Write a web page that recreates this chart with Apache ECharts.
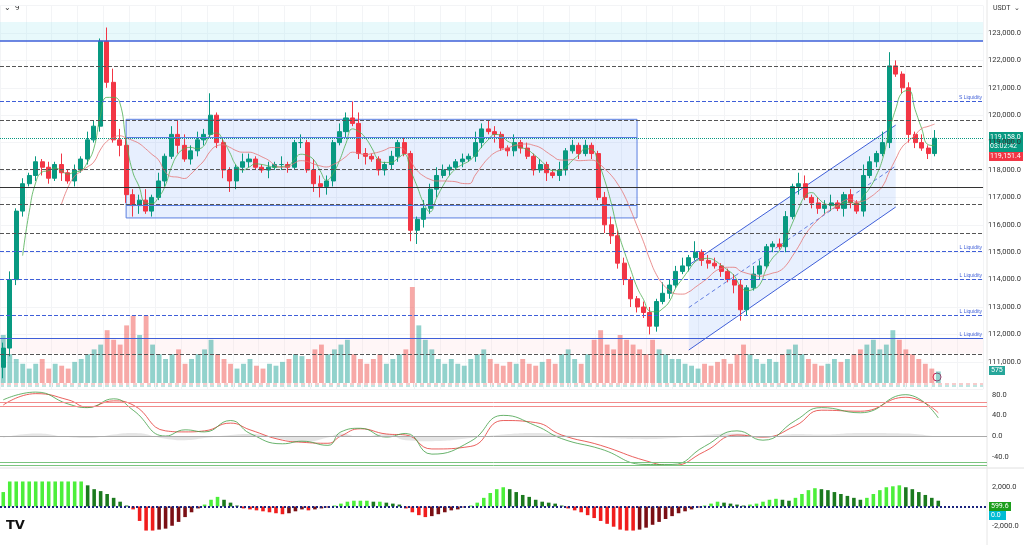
<!DOCTYPE html>
<html><head><meta charset="utf-8">
<script src="https://cdn.jsdelivr.net/npm/echarts@6/dist/echarts.min.js"></script>
<style>html,body{margin:0;padding:0;background:#fff}#c{width:1024px;height:545px}</style>
</head><body><div id="c"></div>
<script>
const closes=[111500,114000,116500,117500,117800,118300,118100,117700,118200,117900,
117600,118000,118400,119100,119600,122700,121200,119100,118900,117100,
116700,116900,116500,117000,117600,118500,119300,118900,118400,118700,
119100,119300,120000,119000,118000,117600,118100,118300,118400,118100,
118000,118100,118200,118200,118100,119000,119000,118000,117500,117400,
117600,119000,119400,119900,119700,118600,118500,118400,118000,118200,
118500,119000,118600,115800,116200,116600,117300,117800,118000,118100,
118300,118400,118500,119000,119500,119400,119300,118800,118700,119000,
118800,118500,118000,118200,117900,117800,118000,118700,118900,118600,
118900,118600,117000,116000,115600,114600,114000,113300,113000,112800,
112300,113200,113500,113800,114300,114500,114800,115000,114700,114600,
114500,114300,114000,113800,112900,113700,114200,114500,115200,115300,
115200,116300,117400,117500,117000,116800,116600,116700,116800,116600,
117100,116800,116500,117800,118300,118600,119000,121800,121500,121000,
119300,119000,118800,118600,119158];
const firstOpen=110800;
const wickUp="2312121214"+"1213215543"+"2241313542"+"3281211321"+"1213113143"+"2132642111"+"2121132321"+"1214232113"+"1212113121"+"2112322112"+"2142231412"+"2112213211"+"2214312231"+"1214214521"+"21313";
const wickDn="4322123213"+"1212122143"+"4312121312"+"2212343221"+"1312212134"+"3212123122"+"2214532312"+"1212213122"+"2121312212"+"1213322322"+"3212112122"+"1213421212"+"1213122221"+"3212121212"+"32121";
const volumes=[50,30,25,20,15,20,25,15,20,18,15,22,25,30,35,40,55,45,40,60,
70,50,70,40,30,25,30,35,20,25,30,35,45,30,25,20,15,20,25,18,
15,20,18,22,25,30,28,25,35,40,30,35,40,45,30,25,20,25,30,20,
25,30,35,100,60,45,35,25,20,25,20,18,25,30,35,25,20,18,22,20,
25,20,18,22,25,20,30,35,25,20,30,45,55,40,35,50,45,40,35,30,
45,35,30,25,25,20,18,15,20,18,22,25,20,30,40,30,25,20,25,22,
30,35,40,30,25,20,18,20,25,22,25,30,35,40,45,35,40,55,45,35,
30,25,20,15,12];
const macdHist=[1500,2600,2600,2600,2600,2600,2600,2600,2600,2600,2600,2600,2600,
2200,1800,1600,1300,900,500,100,
-300,-1500,-2500,-2500,-2400,-2300,-2000,-1600,-1100,-600,-200,
200,700,1000,700,400,100,
-200,-300,-400,-500,-600,-700,-800,-700,-500,-300,-400,-300,-200,-100,100,
300,500,600,600,600,500,500,400,300,200,
-200,-600,-900,-1100,-1000,-800,-600,-400,-300,-100,100,
400,900,1400,1800,2000,1800,1500,1200,1000,700,500,400,300,100,
-200,-400,-600,-900,-1200,-1500,-1800,-2100,-2400,-2500,-2500,-2400,-2200,-1900,-1600,-1300,-1000,-700,-500,-300,-100,
100,300,500,400,300,200,100,200,300,500,700,800,700,600,
900,1300,1700,1900,1800,1700,1500,1300,1100,900,700,900,
1300,1700,2000,2100,2200,2000,1800,1500,1200,900,600];
const oscIdx=[0,5,10,13,17,20,25,28,31,35,38,43,46,50,52,55,59,62,66,72,77,82,86,92,99,103,108,113,117,122,126,132,139,144];
const oscFast=[70,85,62,55,72,50,0,12,8,30,5,-15,-10,-18,8,15,-2,5,-35,-10,40,20,-5,-25,-55,-55,-20,10,-8,30,55,45,80,35];
const oscSlow=[60,82,70,56,68,60,10,8,10,25,12,-8,-12,-14,0,14,4,2,-25,-20,30,26,2,-18,-48,-57,-30,2,-2,20,50,48,75,45];
const oscGray=[-3,5,-2,-4,3,6,-5,-8,-4,2,4,-6,-12,-3,5,-2,4,-8,-10,-4,3,6,2,-3,-6,-4,2,5,-3,4,3,6,5,-2];
const nBlank=7;

const cats=closes.map((_,i)=>i).concat(Array.from({length:nBlank},(_,k)=>closes.length+k));
const ohlc=closes.map((c,i)=>{const o=i?closes[i-1]:firstOpen;return [o,c,Math.min(o,c)-(+wickDn[i])*100,Math.max(o,c)+(+wickUp[i])*100];});
function sma(n){return closes.map((_,i)=>{if(i<n-1)return '-';let s=0;for(let k=i-n+1;k<=i;k++)s+=closes[k];return s/n;});}
const maFast=sma(4), maSlow=sma(10);
const UP='#089981',DN='#f23645';
const RIGHT=37;
const dashLine=(y,c,t)=>({yAxis:y,lineStyle:{color:c,type:t||'dashed',width:1},label:{show:false}});
const liq=(y,txt,solid)=>({yAxis:y,lineStyle:{color:'#3f5fd8',type:solid?'solid':'dashed',width:solid?1.2:1},label:{show:true,position:'insideEndTop',formatter:txt,color:'#3f5fd8',fontSize:5,distance:1}});

const chart=echarts.init(document.getElementById('c'),null,{renderer:'canvas'});
chart.setOption({
animation:false,
grid:[
 {left:0,right:RIGHT,top:5.6,height:383.6},
 {left:0,right:RIGHT,top:287,height:96},
 {left:0,right:RIGHT,top:374,height:103.4},
 {left:0,right:RIGHT,top:468,height:92}
],
xAxis:[
 {type:'category',data:cats,gridIndex:0,axisLine:{show:false},axisTick:{show:false},axisLabel:{show:false},splitLine:{show:true,interval:3,lineStyle:{color:'#f3f4f6'}}},
 {type:'category',data:cats,gridIndex:1,show:false},
 {type:'value',min:-0.5,max:cats.length-0.5,gridIndex:2,show:false},
 {type:'category',data:cats,gridIndex:3,show:false}
],
yAxis:[
 {type:'value',gridIndex:0,position:'right',min:110000,max:124000,interval:1000,axisLine:{show:false},axisTick:{show:false},
  axisLabel:{showMinLabel:false,showMaxLabel:false,color:'#333',fontSize:7.5,fontFamily:'Roboto',margin:5,formatter:v=>v.toLocaleString('en-US')+'.0'},
  splitLine:{show:true,lineStyle:{color:'#f3f4f6'}}},
 {type:'value',gridIndex:1,min:0,max:100,show:false},
 {type:'value',gridIndex:2,position:'right',min:-80,max:120,interval:40,axisLine:{show:false},axisTick:{show:false},splitLine:{show:false},
  axisLabel:{showMinLabel:false,showMaxLabel:false,color:'#333',fontSize:7.5,fontFamily:'Roboto',margin:5,formatter:v=>v.toFixed(1)}},
 {type:'value',gridIndex:3,position:'right',min:-4000,max:4000,interval:2000,axisLine:{show:false},axisTick:{show:false},splitLine:{show:false},
  axisLabel:{showMinLabel:false,showMaxLabel:false,color:'#333',fontSize:7.5,fontFamily:'Roboto',margin:5,formatter:v=>v===0?'':v.toLocaleString('en-US')+'.0'}}
],
series:[
 {type:'bar',xAxisIndex:1,yAxisIndex:1,barWidth:'75%',silent:true,
  data:volumes.map((v,i)=>({value:v,itemStyle:{color:ohlc[i][1]>=ohlc[i][0]?'rgba(38,166,154,0.5)':'rgba(239,83,80,0.5)'}}))},
 {type:'candlestick',xAxisIndex:0,yAxisIndex:0,data:ohlc,barWidth:'70%',
  itemStyle:{color:UP,color0:DN,borderColor:UP,borderColor0:DN,borderWidth:1},
  markArea:{silent:true,data:[
   [{yAxis:122700,itemStyle:{color:'rgba(178,235,242,0.3)'}},{yAxis:123400}],
   [{yAxis:111300,itemStyle:{color:'rgba(255,205,210,0.18)'}},{yAxis:111850}],
   [{xAxis:19,yAxis:119850,itemStyle:{color:'rgba(66,133,244,0.13)',borderColor:'#5b7fe0',borderWidth:1}},{xAxis:98,yAxis:116250}]
  ]},
  markLine:{silent:true,symbol:'none',data:[
   {yAxis:122700,lineStyle:{color:'#3f5fd8',type:'solid',width:1.6},label:{show:false}},
   dashLine(121800,'#555'),
   liq(120500,'S Liquidity'),
   dashLine(119830,'#555'),
   {yAxis:119158,lineStyle:{color:'#089981',type:'dotted',width:1},label:{show:false}},
   dashLine(118040,'#555'),
   {yAxis:117380,lineStyle:{color:'#333',type:'solid',width:1},label:{show:false}},
   dashLine(116760,'#555'),
   dashLine(115700,'#555'),
   liq(115040,'L Liquidity'),
   liq(114020,'L Liquidity'),
   liq(112700,'L Liquidity'),
   liq(111870,'L Liquidity',true),
   dashLine(111280,'#555'),
   [{coord:[19,119200],lineStyle:{color:'#5b7fe0',type:'solid',width:1}},{coord:[98,119200]}],
   [{coord:[19,116720],lineStyle:{color:'#5b7fe0',type:'solid',width:1}},{coord:[98,116720]}]
  ]}},
 {type:'line',data:maFast,symbol:'none',smooth:true,lineStyle:{color:'#4caf50',width:0.8},z:3},
 {type:'line',data:maSlow,symbol:'none',smooth:true,lineStyle:{color:'#e57373',width:0.8},z:3},
 {type:'custom',xAxisIndex:0,yAxisIndex:0,data:[[0]],z:1,silent:true,
  renderItem:(p,api)=>{
   const a=api.coord([105.5,114530]),b=api.coord([137.8,119640]),c=api.coord([137.8,116650]),d=api.coord([105.5,111430]);
   const m1=[(a[0]+d[0])/2,(a[1]+d[1])/2],m2=[(b[0]+c[0])/2,(b[1]+c[1])/2];
   return {type:'group',children:[
    {type:'polygon',shape:{points:[a,b,c,d]},style:{fill:'rgba(66,133,244,0.12)',stroke:null}},
    {type:'line',shape:{x1:a[0],y1:a[1],x2:b[0],y2:b[1]},style:{stroke:'#3f5fd8',lineWidth:1}},
    {type:'line',shape:{x1:d[0],y1:d[1],x2:c[0],y2:c[1]},style:{stroke:'#3f5fd8',lineWidth:1}},
    {type:'line',shape:{x1:m1[0],y1:m1[1],x2:m2[0],y2:m2[1]},style:{stroke:'#3f5fd8',lineWidth:0.8,lineDash:[4,3]}}
   ]};}},
 {type:'line',xAxisIndex:2,yAxisIndex:2,data:oscIdx.map((x,i)=>[x,oscGray[i]]),symbol:'none',smooth:true,lineStyle:{width:0},areaStyle:{color:'rgba(160,160,160,0.4)'},
  markLine:{silent:true,symbol:'none',label:{show:false},data:[
   {yAxis:0,lineStyle:{color:'#aaa',type:'solid',width:1}},
   {yAxis:65,lineStyle:{color:'#f28b8b',type:'solid',width:1}},
   {yAxis:57,lineStyle:{color:'#f28b8b',type:'solid',width:1}},
   {yAxis:-50,lineStyle:{color:'#7bc47f',type:'solid',width:1}},
   {yAxis:-56,lineStyle:{color:'#7bc47f',type:'solid',width:1}}]}},
 {type:'line',xAxisIndex:2,yAxisIndex:2,data:oscIdx.map((x,i)=>[x,oscSlow[i]]),symbol:'none',smooth:true,lineStyle:{color:'#e53935',width:0.8}},
 {type:'line',xAxisIndex:2,yAxisIndex:2,data:oscIdx.map((x,i)=>[x,oscFast[i]]),symbol:'none',smooth:true,lineStyle:{color:'#43a047',width:0.8}},
 {type:'bar',xAxisIndex:3,yAxisIndex:3,barWidth:'55%',
  data:macdHist.map((v,i)=>{const pv=i?macdHist[i-1]:0;let c;
   if(v>=0)c=v>=pv?'#4cef3a':'#1b7a1e';else c=v<=pv?'#f01d1d':'#7a0f14';return {value:v,itemStyle:{color:c}};}),
  markLine:{silent:true,symbol:'none',label:{show:false},data:[{yAxis:0,lineStyle:{color:'#1a237e',type:'dotted',width:2}}]}}
],
graphic:[
 {type:'text',left:4,top:4,style:{text:'⌄  9',fontSize:8,fill:'#333',fontFamily:'Roboto'}},
 {type:'text',left:993,top:5,style:{text:'USDT  ⌄',fontSize:7,fill:'#333',fontFamily:'Roboto'}},
 {type:'line',shape:{x1:0,y1:384,x2:987,y2:384},style:{stroke:'#ef9a9a',lineDash:[4,3],lineWidth:1}},
 {type:'line',shape:{x1:0,y1:386,x2:987,y2:386},style:{stroke:'#80cbc4',lineDash:[4,3],lineWidth:1}},
 {type:'line',shape:{x1:0,y1:468,x2:1024,y2:468},style:{stroke:'#e0e0e0',lineWidth:1}},
 {type:'line',shape:{x1:987,y1:0,x2:987,y2:545},style:{stroke:'#e6e6e6',lineWidth:1}},
 {type:'rect',shape:{x:989,y:132,width:34,height:20},style:{fill:'#089981'}},
 {type:'text',left:990,top:133,style:{text:'119,158.0\n03:02:42',fontSize:7,lineHeight:9,fill:'#fff',fontFamily:'Roboto'}},
 {type:'rect',shape:{x:989,y:152,width:34,height:9},style:{fill:'#f23645'}},
 {type:'text',left:990,top:153,style:{text:'119,151.4',fontSize:7,fill:'#fff',fontFamily:'Roboto'}},
 {type:'rect',shape:{x:989,y:366,width:16,height:9},style:{fill:'#26a69a'}},
 {type:'text',left:991,top:367,style:{text:'575',fontSize:7,fill:'#fff',fontFamily:'Roboto'}},
 {type:'rect',shape:{x:989,y:502,width:22,height:9},style:{fill:'#1b9e1b'}},
 {type:'text',left:991,top:503,style:{text:'599.6',fontSize:7,fill:'#fff',fontFamily:'Roboto'}},
 {type:'rect',shape:{x:989,y:511,width:17,height:9},style:{fill:'#00bcd4'}},
 {type:'text',left:991,top:512,style:{text:'0.0',fontSize:7,fill:'#fff',fontFamily:'Roboto'}},
 {type:'circle',shape:{cx:937,cy:377,r:4},style:{fill:'none',stroke:'#c2185b',lineWidth:1}},
 {type:'text',left:6,top:519,style:{text:'TV',fontSize:13,fontWeight:'bold',fill:'#111',fontFamily:'DejaVu Sans'}}
]
});
</script></body></html>
